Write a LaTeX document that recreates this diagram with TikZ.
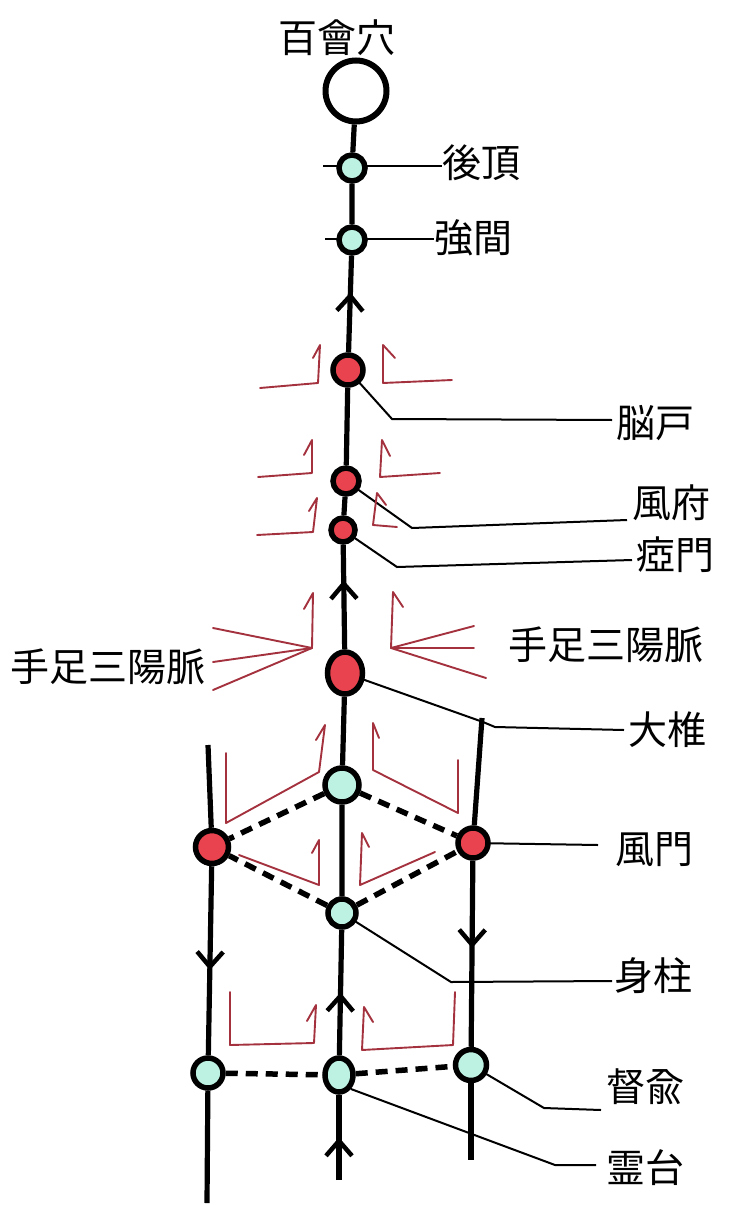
\documentclass[tikz,border=0pt]{standalone}
\usepackage{fontspec}
\setmainfont{Noto Sans CJK JP}
\usetikzlibrary{arrows.meta,decorations.markings,backgrounds,shapes.geometric}
\definecolor{ptred}{HTML}{E8434E}
\definecolor{ptteal}{HTML}{BDF2E2}
\definecolor{arrred}{HTML}{A3323E}
\begin{document}
\begin{tikzpicture}[x=1pt,y=-1pt,
  dot/.style={circle,draw=black,line width=5.5pt,inner sep=0pt},
  reddot/.style={dot,fill=ptred},
  tealdot/.style={dot,fill=ptteal},
  lbl/.style={font=\fontsize{39pt}{41pt}\selectfont,inner sep=0pt},
  spine/.style={line width=5.2pt},
  lead/.style={line width=2pt},
  dashline/.style={line width=5.5pt,dash pattern=on 12pt off 8pt},
  flow/.style={draw=arrred,line width=1.9pt,line join=round,line cap=round},
  tipmark/.style={postaction={decorate},decoration={markings,mark=at position #1 with {\arrow{Straight Barb[length=15pt,width=26pt,line width=4.5pt]}}}}
]
\useasboundingbox (0,0) rectangle (741,1206);

% ---- point nodes
\node[dot,line width=6pt,fill=white,minimum size=61pt] (baihui) at (356,91) {};
\node[tealdot,minimum size=26pt] (houding) at (352,168) {};
\node[tealdot,minimum size=26pt] (qiangjian) at (352,240) {};
\node[reddot,minimum size=30pt] (naohu) at (348,370) {};
\node[reddot,minimum size=26pt] (fengfu) at (346,481) {};
\node[reddot,minimum size=24pt] (yamen) at (343,530) {};
\node[reddot,ellipse,minimum width=35pt,minimum height=42pt] (dazhui) at (345,673) {};
\node[tealdot,minimum size=34pt] (tA) at (342,785) {};
\node[tealdot,minimum size=28pt] (shenzhu) at (342,913) {};
\node[reddot,minimum size=33pt] (fmL) at (212,847) {};
\node[reddot,minimum size=30pt] (fmR) at (473,843) {};
\node[tealdot,minimum size=30pt] (bL) at (208,1073) {};
\node[tealdot,ellipse,minimum width=28pt,minimum height=34pt] (bC) at (339,1075) {};
\node[tealdot,minimum size=31pt] (bR) at (471,1065) {};

% ---- labels
\node[lbl] (tbaihui) at (337,38) {百會穴};
\node[lbl,anchor=west] (thouding) at (442,163) {後頂};
\node[lbl,anchor=west] (tqiangjian) at (434,238) {強間};
\node[lbl,anchor=west] (tnaohu) at (616,423) {脳戸};
\node[lbl,anchor=west] (tfengfu) at (632,503) {風府};
\node[lbl,anchor=west] (tyamen) at (636,555) {瘂門};
\node[lbl] (tsanyangL) at (108,667) {手足三陽脈};
\node[lbl] (tsanyangR) at (606,645) {手足三陽脈};
\node[lbl,anchor=west] (tdazhui) at (628,730) {大椎};
\node[lbl,anchor=west] (tfengmen) at (615,850) {風門};
\node[lbl,anchor=west] (tshenzhu) at (614,976) {身柱};
\node[lbl,anchor=west] (tduyu) at (606,1087) {督兪};
\node[lbl,anchor=west] (tlingtai) at (606,1168) {霊台};

% ---- coordinates
\coordinate (hdL) at (323,166);
\coordinate (qjL) at (325,239);
\coordinate (nhK) at (392,419); \coordinate (nhE) at (612,420);
\coordinate (ffK) at (412,528); \coordinate (ffE) at (627,520);
\coordinate (ymK) at (397,567); \coordinate (ymE) at (632,560);
\coordinate (dzK1) at (483,722); \coordinate (dzK2) at (495,727); \coordinate (dzE) at (624,730);
\coordinate (fmE) at (598,845);
\coordinate (szK) at (451,982); \coordinate (szE) at (612,981);
\coordinate (dyK) at (544,1108); \coordinate (dyE) at (601,1110);
\coordinate (ltK) at (555,1165); \coordinate (ltE) at (596,1165);
\coordinate (cBot) at (339,1180);
\coordinate (lTop) at (208,745); \coordinate (lBot) at (207,1203);
\coordinate (rTop) at (482,718); \coordinate (rBot) at (471,1160);

\begin{scope}[on background layer]
% main spine
\draw[spine] (baihui) -- (houding) -- (qiangjian);
\draw[spine,tipmark=0.62] (naohu) -- (qiangjian);
\draw[spine] (naohu) -- (fengfu) -- (yamen);
\draw[spine,tipmark=0.66] (dazhui) -- (yamen);
\draw[spine] (dazhui) -- (tA) -- (shenzhu);
\draw[spine,tipmark=0.5] (bC) -- (shenzhu);
\draw[spine,tipmark=0.5] (cBot) -- (bC);
% side lines
\draw[spine] (lTop) -- (fmL);
\draw[spine,tipmark=0.55] (fmL) -- (bL);
\draw[spine] (bL) -- (lBot);
\draw[spine] (rTop) -- (fmR);
\draw[spine,tipmark=0.47] (fmR) -- (bR);
\draw[spine] (bR) -- (rBot);
% dashed links
\draw[dashline] (tA) -- (fmL);
\draw[dashline] (tA) -- (fmR);
\draw[dashline] (shenzhu) -- (fmL);
\draw[dashline] (shenzhu) -- (fmR);
\draw[dashline] (bL) -- (bC);
\draw[dashline] (bC) -- (bR);
% leaders
\draw[lead] (hdL) -- (hdL -| thouding.west);
\draw[lead] (qjL) -- (qjL -| tqiangjian.west);
\draw[lead] (naohu.center) -- (nhK) -- (nhE);
\draw[lead] (fengfu.center) -- (ffK) -- (ffE);
\draw[lead] (yamen.center) -- (ymK) -- (ymE);
\draw[lead] (dazhui.center) -- (dzK1) -- (dzK2) -- (dzE);
\draw[lead] (fmR.center) -- (fmE);
\draw[lead] (shenzhu.center) -- (szK) -- (szE);
\draw[lead] (bR.center) -- (dyK) -- (dyE);
\draw[lead] (bC.south east) -- (ltK) -- (ltE);
% red flows
\draw[flow] (260,388) -- (318,383) -- (320,345) -- (313,358);
\draw[flow] (452,380) -- (383,383) -- (383,345) -- (395,358);
\draw[flow] (258,477) -- (312,473) -- (312,440) -- (304,455);
\draw[flow] (440,473) -- (380,477) -- (382,440) -- (390,456);
\draw[flow] (257,535) -- (313,532) -- (317,498) -- (309,511);
\draw[flow] (397,527) -- (373,525) -- (377,493) -- (386,505);
\draw[flow] (213,628) -- (312,648);
\draw[flow] (213,662) -- (312,648);
\draw[flow] (213,690) -- (312,648) -- (313,593) -- (304,609);
\draw[flow] (474,626) -- (391,648);
\draw[flow] (474,648) -- (391,648);
\draw[flow] (486,678) -- (391,648) -- (393,592) -- (403,607);
\draw[flow] (226,753) -- (226,823) -- (319,772) -- (325,725) -- (316,740);
\draw[flow] (458,760) -- (458,813) -- (373,770) -- (373,723) -- (379,738);
\draw[flow] (239,855) -- (319,885) -- (319,840) -- (312,853);
\draw[flow] (435,852) -- (360,885) -- (362,833) -- (369,847);
\draw[flow] (230,992) -- (230,1045) -- (314,1043) -- (316,1005) -- (307,1021);
\draw[flow] (455,992) -- (453,1045) -- (362,1050) -- (364,1007) -- (373,1022);
\end{scope}
\end{tikzpicture}
\end{document}
